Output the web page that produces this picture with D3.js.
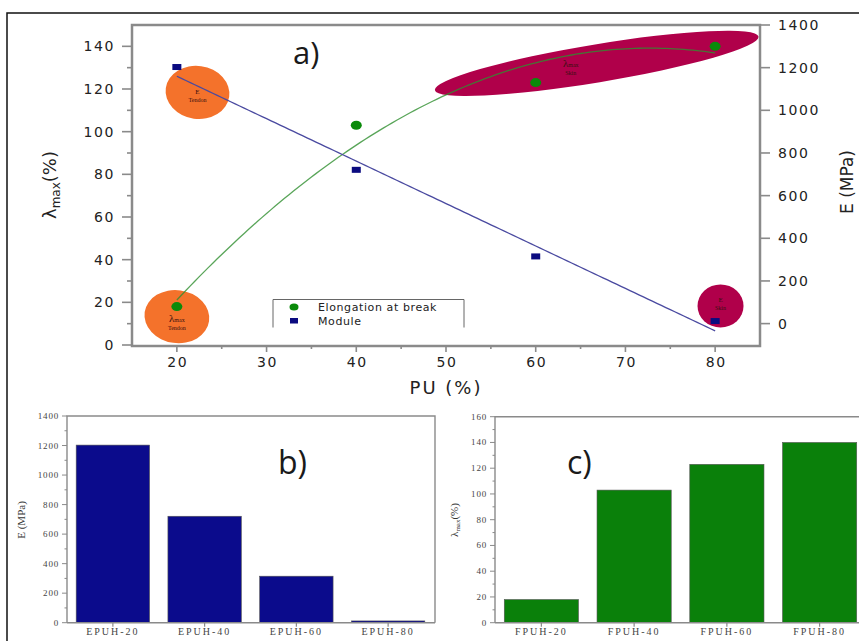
<!DOCTYPE html>
<html>
<head>
<meta charset="utf-8">
<script src="https://cdn.jsdelivr.net/npm/d3@7"></script>
<style>
  body { margin: 0; background: #fff; }
  svg { display: block; }
</style>
</head>
<body>
<div id="chart"></div>
<script>
// values
const puPct = [20, 40, 60, 80]
const elongation = [18, 103, 123, 140]   // lambda max (%)
const modulus = [1203, 721, 315, 12]     // E (MPa)
const samplesB = ['EPUH-20', 'EPUH-40', 'EPUH-60', 'EPUH-80']
const samplesC = ['FPUH-20', 'FPUH-40', 'FPUH-60', 'FPUH-80']
const xTicksA = [20, 30, 40, 50, 60, 70, 80]
const yTicksA = [0, 20, 40, 60, 80, 100, 120, 140]
const rTicksA = [0, 200, 400, 600, 800, 1000, 1200, 1400]
const yTicksB = [0, 200, 400, 600, 800, 1000, 1200, 1400]
const yTicksC = [0, 20, 40, 60, 80, 100, 120, 140, 160]

const W = 859, H = 641
const gray = '#8a8a8a'
const ink = '#222'
const sans = '"DejaVu Sans", Verdana, sans-serif'
const serif = '"Liberation Serif", "Times New Roman", serif'

const svg = d3.select('#chart').append('svg')
    .attr('width', W).attr('height', H)
    .attr('viewBox', [0, 0, W, H])

// outer border (top + left visible)
svg.append('path')
    .attr('d', `M7,${H} V13 H${W}`)
    .attr('fill', 'none').attr('stroke', '#111').attr('stroke-width', 1.5)

// ---------------- panel a ----------------
const pa = { l: 132, r: 760, t: 25, b: 346 }
const x = d3.scaleLinear().domain([15, 85]).range([pa.l, pa.r])
const yL = d3.scaleLinear().domain([0, 150]).range([345, pa.t])
const yR = d3.scaleLinear().domain([-105, 1400]).range([pa.b, pa.t])

const ga = svg.append('g')

// annotation ellipses (drawn under the data)
const blobs = [
    { cx: 22.3, cy: 118.4, rx: 32, ry: 26.5, rot: 8, fill: '#f4722b', l1: 'E', l2: 'Tendon', sub: false },
    { cx: 20, cy: 13.3, rx: 32.5, ry: 26.5, rot: 8, fill: '#f4722b', l1: 'λ', l2: 'Tendon', sub: true },
    { cx: 66.8, cy: 132, rx: 164, ry: 19, rot: -9.4, fill: '#b0004a', l1: 'λ', l2: 'Skin', sub: true },
    { cx: 80.6, cy: 18.3, rx: 23, ry: 21.5, rot: 0, fill: '#b0004a', l1: 'E', l2: 'Skin', sub: false },
]
ga.selectAll('.blob')
    .data(blobs)
    .enter()
    .append('ellipse')
    .attr('class', 'blob')
    .attr('cx', d => x(d.cx)).attr('cy', d => yL(d.cy))
    .attr('rx', d => d.rx).attr('ry', d => d.ry)
    .attr('transform', d => `rotate(${d.rot},${x(d.cx)},${yL(d.cy)})`)
    .attr('fill', d => d.fill)

// little captions inside the blobs
const capOff = [[0, 2], [0, 5], [-26, 4], [0, -4]]
blobs.forEach((d, i) => {
    const cx = x(d.cx) + capOff[i][0], cy = yL(d.cy) + capOff[i][1]
    const t1 = ga.append('text')
        .attr('x', cx).attr('y', cy)
        .attr('text-anchor', 'middle')
        .attr('font-family', serif).attr('font-size', d.sub ? 11 : 7)
        .attr('fill', '#3a1010')
        .text(d.l1)
    if (d.sub) t1.append('tspan').attr('font-size', 6).text('max')
    ga.append('text')
        .attr('x', cx).attr('y', cy + 8)
        .attr('text-anchor', 'middle')
        .attr('font-family', serif).attr('font-size', 6)
        .attr('fill', '#3a1010')
        .text(d.l2)
})

// fitted curves: quadratic for elongation, straight line for modulus
const fitPoly = (xs, ys, deg) => {
    // least squares via normal equations
    const n = deg + 1
    const A = Array.from({ length: n }, () => Array(n + 1).fill(0))
    xs.forEach((xi, k) => {
        for (let i = 0; i < n; i++) {
            for (let j = 0; j < n; j++) A[i][j] += Math.pow(xi, i + j)
            A[i][n] += ys[k] * Math.pow(xi, i)
        }
    })
    for (let i = 0; i < n; i++) {
        for (let r = i + 1; r < n; r++) {
            const f = A[r][i] / A[i][i]
            for (let c = i; c <= n; c++) A[r][c] -= f * A[i][c]
        }
    }
    const co = Array(n).fill(0)
    for (let i = n - 1; i >= 0; i--) {
        let s = A[i][n]
        for (let j = i + 1; j < n; j++) s -= A[i][j] * co[j]
        co[i] = s / A[i][i]
    }
    return v => co.reduce((acc, c, i) => acc + c * Math.pow(v, i), 0)
}
const elFit = fitPoly(puPct, elongation, 2)
const moFit = fitPoly(puPct, modulus, 1)
const xs = d3.range(20, 80.01, 0.5)

ga.append('path')
    .datum(xs)
    .attr('fill', 'none').attr('stroke', '#2f8f2f').attr('stroke-width', 1.3)
    .attr('stroke-opacity', 0.8)
    .attr('d', d3.line().x(d => x(d)).y(d => yL(elFit(d))))

ga.append('path')
    .datum(xs)
    .attr('fill', 'none').attr('stroke', '#4a4aa0').attr('stroke-width', 1.3)
    .attr('d', d3.line().x(d => x(d)).y(d => yR(moFit(d))))

// data points
ga.selectAll('.el')
    .data(puPct)
    .enter()
    .append('ellipse')
    .attr('class', 'el')
    .attr('cx', d => x(d)).attr('cy', (d, i) => yL(elongation[i]))
    .attr('rx', 5.5).attr('ry', 4.5)
    .attr('fill', '#0a8a0a')

ga.selectAll('.mo')
    .data(puPct)
    .enter()
    .append('rect')
    .attr('class', 'mo')
    .attr('x', d => x(d) - 4.5).attr('y', (d, i) => yR(modulus[i]) - 3)
    .attr('width', 9).attr('height', 6)
    .attr('fill', '#0b0b80')

// frame
ga.append('rect')
    .attr('x', pa.l).attr('y', pa.t)
    .attr('width', pa.r - pa.l).attr('height', pa.b - pa.t)
    .attr('fill', 'none').attr('stroke', gray).attr('stroke-width', 2.5)

// left axis ticks
ga.selectAll('.ylt')
    .data(d3.range(0, 150, 10))
    .enter()
    .append('line')
    .attr('x1', pa.l).attr('x2', d => pa.l - (d % 20 === 0 ? 10 : 5))
    .attr('y1', d => yL(d)).attr('y2', d => yL(d))
    .attr('stroke', gray).attr('stroke-width', 1.6)
ga.selectAll('.yll')
    .data(yTicksA)
    .enter()
    .append('text')
    .attr('x', 115).attr('y', d => yL(d) + 5)
    .attr('text-anchor', 'end')
    .attr('font-family', sans).attr('font-size', 14).attr('letter-spacing', 1.6)
    .attr('fill', ink)
    .text(d => d)

// right axis ticks
ga.selectAll('.yrt')
    .data(rTicksA)
    .enter()
    .append('line')
    .attr('x1', pa.r).attr('x2', pa.r + 10)
    .attr('y1', d => yR(d)).attr('y2', d => yR(d))
    .attr('stroke', gray).attr('stroke-width', 1.6)
ga.selectAll('.yrl')
    .data(rTicksA)
    .enter()
    .append('text')
    .attr('x', 778).attr('y', d => yR(d) + 5)
    .attr('font-family', sans).attr('font-size', 14).attr('letter-spacing', 1.6)
    .attr('fill', ink)
    .text(d => d)

// bottom axis ticks
ga.selectAll('.xt')
    .data(d3.range(20, 85, 5))
    .enter()
    .append('line')
    .attr('x1', d => x(d)).attr('x2', d => x(d))
    .attr('y1', pa.b).attr('y2', d => pa.b + (d % 10 === 0 ? 6 : 3))
    .attr('stroke', gray).attr('stroke-width', 1.6)
ga.selectAll('.xl')
    .data(xTicksA)
    .enter()
    .append('text')
    .attr('x', d => x(d) + 1).attr('y', 367)
    .attr('text-anchor', 'middle')
    .attr('font-family', sans).attr('font-size', 14).attr('letter-spacing', 1.6)
    .attr('fill', ink)
    .text(d => d)

// axis titles
ga.append('text')
    .attr('x', 446).attr('y', 394)
    .attr('text-anchor', 'middle')
    .attr('font-family', sans).attr('font-size', 18).attr('letter-spacing', 2)
    .attr('fill', ink)
    .text('PU (%)')

const yTitle = ga.append('text')
    .attr('transform', 'translate(56,185) rotate(-90)')
    .attr('text-anchor', 'middle')
    .attr('font-family', sans).attr('font-size', 18)
    .attr('fill', ink)
yTitle.append('tspan').text('λ')
yTitle.append('tspan').attr('font-size', 12).attr('dy', 4).text('max')
yTitle.append('tspan').attr('dy', -4).text('(%)')

ga.append('text')
    .attr('transform', 'translate(853,182) rotate(-90)')
    .attr('text-anchor', 'middle')
    .attr('font-family', sans).attr('font-size', 17)
    .attr('fill', ink)
    .text('E (MPa)')

ga.append('text')
    .attr('x', 293).attr('y', 64)
    .attr('font-family', '"Open Sans", sans-serif').attr('font-size', 31)
    .attr('fill', '#1a1a1a')
    .text('a)')

// legend
const lg = ga.append('g').attr('transform', 'translate(273,299.5)')
lg.append('path')
    .attr('d', 'M0,28 V0 H191 V28')
    .attr('fill', 'none').attr('stroke', '#666').attr('stroke-width', 1)
lg.append('ellipse').attr('cx', 21).attr('cy', 7.5).attr('rx', 4.5).attr('ry', 3.5).attr('fill', '#0a8a0a')
lg.append('rect').attr('x', 17).attr('y', 18.5).attr('width', 8).attr('height', 5.5).attr('fill', '#0b0b80')
lg.append('text').attr('x', 45).attr('y', 11.5)
    .attr('font-family', sans).attr('font-size', 11).attr('letter-spacing', 0.6).attr('fill', ink)
    .text('Elongation at break')
lg.append('text').attr('x', 45).attr('y', 25)
    .attr('font-family', sans).attr('font-size', 11).attr('letter-spacing', 0.6).attr('fill', ink)
    .text('Module')

// ---------------- bar panels ----------------
const barPanel = (cfg) => {
    const g = svg.append('g')
    const xb = d3.scaleBand().domain(cfg.cats).range([cfg.l, cfg.rr])
        .paddingInner(0.2).paddingOuter(0.1)
    const yb = d3.scaleLinear().domain([0, cfg.max]).range([cfg.b, cfg.t])

    g.selectAll('.bar')
        .data(cfg.vals)
        .enter()
        .append('rect')
        .attr('x', (d, i) => xb(cfg.cats[i]))
        .attr('y', d => yb(d))
        .attr('width', xb.bandwidth())
        .attr('height', d => yb(0) - yb(d))
        .attr('fill', cfg.color)
        .attr('stroke', '#555').attr('stroke-width', 0.6)

    // frame
    g.append('path')
        .attr('d', `M${cfg.l},${cfg.b} V${cfg.t} H${cfg.r} V${cfg.b} M${cfg.l},${cfg.b} H${cfg.r}`)
        .attr('fill', 'none').attr('stroke', gray).attr('stroke-width', 1.4)

    g.selectAll('.yt')
        .data(d3.range(0, cfg.max + 0.1, cfg.minor))
        .enter()
        .append('line')
        .attr('x1', cfg.l).attr('x2', d => cfg.l - (d % cfg.major === 0 ? 5 : 2.5))
        .attr('y1', d => yb(d)).attr('y2', d => yb(d))
        .attr('stroke', gray).attr('stroke-width', 1)
    g.selectAll('.yl')
        .data(cfg.ticks)
        .enter()
        .append('text')
        .attr('x', cfg.l - 8).attr('y', d => yb(d) + 3)
        .attr('text-anchor', 'end')
        .attr('font-family', serif).attr('font-size', 9).attr('letter-spacing', 0.8)
        .attr('fill', '#444')
        .text(d => d)

    g.selectAll('.xt')
        .data(cfg.cats)
        .enter()
        .append('line')
        .attr('x1', d => xb(d) + xb.bandwidth() / 2).attr('x2', d => xb(d) + xb.bandwidth() / 2)
        .attr('y1', cfg.b).attr('y2', cfg.b + 4)
        .attr('stroke', gray).attr('stroke-width', 1.2)
    g.selectAll('.xl')
        .data(cfg.cats)
        .enter()
        .append('text')
        .attr('x', d => xb(d) + xb.bandwidth() / 2).attr('y', 635)
        .attr('text-anchor', 'middle')
        .attr('font-family', serif).attr('font-size', 10).attr('letter-spacing', 2)
        .attr('fill', '#444')
        .text(d => d)

    const yt = g.append('text')
        .attr('transform', `translate(${cfg.titleX},520) rotate(-90)`)
        .attr('text-anchor', 'middle')
        .attr('font-family', serif).attr('font-size', 11)
        .attr('fill', '#333')
    if (cfg.lambda) {
        yt.append('tspan').text('λ')
        yt.append('tspan').attr('font-size', 7).attr('dy', 2).text('max')
        yt.append('tspan').attr('dy', -2).text('(%)')
    } else {
        yt.text('E (MPa)')
    }

    g.append('text')
        .attr('x', cfg.tagX).attr('y', 474)
        .attr('font-family', '"Open Sans", sans-serif').attr('font-size', 32)
        .attr('fill', '#1a1a1a')
        .text(cfg.tag)
}

barPanel({
    cats: samplesB, vals: modulus, color: '#0b0b8c',
    l: 67, r: 435, rr: 434, t: 416, b: 622.7, max: 1400, major: 200, minor: 100,
    ticks: yTicksB, titleX: 25, lambda: false, tag: 'b)', tagX: 278,
})
barPanel({
    cats: samplesC, vals: elongation, color: '#0a800a',
    l: 495, r: 870, rr: 866, t: 416.7, b: 622.7, max: 160, major: 20, minor: 10,
    ticks: yTicksC, titleX: 458, lambda: true, tag: 'c)', tagX: 567,
})
</script>
</body>
</html>
